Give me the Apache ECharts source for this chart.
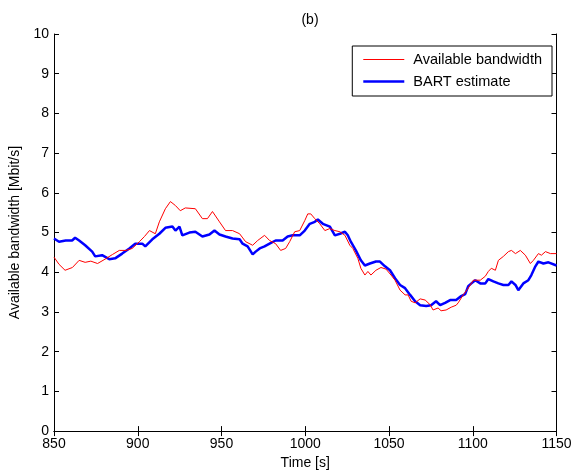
<!DOCTYPE html>
<html>
<head>
<meta charset="utf-8">
<script src="https://cdn.jsdelivr.net/npm/echarts@6/dist/echarts.min.js"></script>
<style>html,body{margin:0;padding:0;background:#fff}#c{width:576px;height:475px}</style>
</head>
<body>
<div id="c"></div>
<script>
const availTime = [850,853,856.6,861,865,868.6,872,876,880.5,885,889,893,896.7,901,904,907,910.5,912.9,916.5,919.5,922.5,925.4,928.4,934.4,938.6,941.6,944.6,948.8,952.4,956.6,960.8,964.4,968.6,971.6,975.7,978.7,982.3,985.3,988.3,990.7,993.7,996.7,999.7,1001.5,1003.3,1005.7,1008.7,1011.7,1014.7,1017.7,1020.7,1023.7,1026.6,1028.4,1031.4,1033.2,1035.6,1037.4,1039.2,1042.2,1045.2,1048.2,1051.2,1053.6,1056.6,1059.6,1061.4,1063.2,1065.6,1068.6,1071.6,1074.6,1076.3,1079.3,1081.1,1084.1,1087.1,1090.1,1091.3,1094.3,1097.3,1100.4,1104.5,1107.5,1109.3,1111.1,1113.5,1115.3,1118.3,1121.3,1123.1,1125.5,1128.4,1131.4,1134.4,1136.2,1139.2,1141,1143.4,1146.4,1150];
const availValue = [4.38,4.2,4.05,4.12,4.3,4.25,4.28,4.22,4.33,4.45,4.55,4.55,4.6,4.77,4.9,5.05,4.97,5.27,5.6,5.78,5.68,5.55,5.62,5.6,5.35,5.35,5.53,5.27,5.05,5.05,4.97,4.77,4.68,4.8,4.93,4.8,4.72,4.55,4.6,4.77,5.02,5.05,5.3,5.47,5.47,5.35,5.22,5.05,5.1,5.05,5.02,4.93,4.68,4.6,4.35,4.1,3.93,4.02,3.93,4.05,4.12,4.08,3.93,3.8,3.55,3.43,3.43,3.27,3.23,3.33,3.3,3.18,3.05,3.1,3.03,3.05,3.12,3.17,3.23,3.43,3.6,3.8,3.8,3.9,4.02,4.1,4.05,4.3,4.4,4.52,4.55,4.47,4.55,4.43,4.22,4.3,4.47,4.43,4.52,4.47,4.47];
const bartTime = [850,853,857,860.8,862.6,865,868.6,872.8,874.6,878.7,883,886.5,890.7,895,898.5,902.7,904.5,908.7,912.9,916.5,920.7,922.5,924.9,926.6,930.8,934.4,938.6,942.8,945.8,948.8,952.4,956.6,960.8,962.6,965.6,968.6,970.4,972.8,975.7,978.7,982.3,986.5,989.5,992.5,996.7,999.7,1002.7,1005.7,1007.5,1010.5,1014.7,1017.7,1020.7,1023.7,1025.4,1027.2,1030.2,1033.2,1035.6,1038.6,1042.2,1044.6,1047.6,1050.6,1053.6,1056.6,1059.6,1062.6,1065.6,1068.6,1072.2,1075.1,1078.1,1080.5,1083.5,1086.5,1090.1,1093.1,1095.5,1097.3,1099.2,1101.5,1104.5,1107.5,1109.3,1112.3,1115.3,1118.3,1121.3,1123.1,1125.5,1127.2,1130.2,1133.2,1135,1137.4,1139.2,1142.2,1145.2,1150];
const bartValue = [4.85,4.77,4.8,4.8,4.87,4.8,4.68,4.52,4.4,4.43,4.33,4.35,4.47,4.6,4.72,4.72,4.65,4.83,4.97,5.12,5.15,5.05,5.15,4.93,5.0,5.02,4.9,4.95,5.05,4.95,4.9,4.85,4.83,4.72,4.65,4.45,4.52,4.6,4.65,4.72,4.8,4.8,4.9,4.93,4.93,5.05,5.22,5.27,5.33,5.22,5.15,4.93,4.97,5.02,4.93,4.77,4.55,4.3,4.17,4.22,4.27,4.27,4.15,4.05,3.85,3.68,3.6,3.43,3.27,3.17,3.15,3.17,3.27,3.17,3.23,3.3,3.3,3.4,3.45,3.65,3.72,3.8,3.72,3.72,3.83,3.77,3.72,3.68,3.68,3.77,3.68,3.55,3.72,3.8,3.93,4.15,4.27,4.22,4.25,4.17];
const xTicksMin = 850, xTicksMax = 1150, xStep = 50;
const yTicksMin = 0, yTicksMax = 10, yStep = 1;
const seriesNames = ['Available bandwidth', 'BART estimate'];

const zip = (a, b) => a.map((v, i) => [v, b[i]]);
const font = "'Liberation Sans', Arial, sans-serif";
const chart = echarts.init(document.getElementById('c'));
const lineAx = {show: true, lineStyle: {color: '#000', width: 1}};
const tick = {show: true, inside: true, length: 5, lineStyle: {color: '#000'}};
const plain = v => String(v);
chart.setOption({
  animation: false,
  backgroundColor: '#fff',
  title: {text: '(b)', left: 305, textAlign: 'center', top: 8,
    textStyle: {fontFamily: font, fontSize: 14, fontWeight: 'normal', color: '#000'}},
  grid: {left: 54, right: 19.5, top: 34, bottom: 41, containLabel: false},
  legend: {
    orient: 'vertical', right: 24, top: 46,
    symbolKeepAspect: true,
    data: [
      {name: seriesNames[0], icon: 'path://M0,0h41v1h-41z', symbolKeepAspect: true, itemStyle: {color: '#ff0000'}},
      {name: seriesNames[1], icon: 'path://M0,0h41v2.5h-41z', symbolKeepAspect: true, itemStyle: {color: '#0000ff'}}
    ],
    itemWidth: 41, itemHeight: 16, itemGap: 7,
    padding: [6, 10, 7, 11],
    borderColor: '#000', borderWidth: 1, backgroundColor: '#fff',
    textStyle: {fontFamily: font, fontSize: 14.5, color: '#000', padding: [0, 0, 0, 4]}
  },
  xAxis: [
    {type: 'value', min: xTicksMin, max: xTicksMax, interval: xStep, position: 'bottom',
     name: 'Time [s]', nameLocation: 'middle', nameGap: 23,
     nameTextStyle: {fontFamily: font, fontSize: 14, color: '#000'},
     axisLine: lineAx, axisTick: tick, splitLine: {show: false},
     axisLabel: {fontFamily: font, fontSize: 14, color: '#000', margin: 6, formatter: plain}},
    {type: 'value', min: xTicksMin, max: xTicksMax, interval: xStep, position: 'top',
     axisLine: lineAx, axisTick: tick, splitLine: {show: false}, axisLabel: {show: false}}
  ],
  yAxis: [
    {type: 'value', min: yTicksMin, max: yTicksMax, interval: yStep, position: 'left',
     name: 'Available bandwidth [Mbit/s]', nameLocation: 'middle', nameGap: 30,
     nameTextStyle: {fontFamily: font, fontSize: 14, color: '#000'},
     axisLine: lineAx, axisTick: tick, splitLine: {show: false},
     axisLabel: {fontFamily: font, fontSize: 14, color: '#000', margin: 5, formatter: plain}},
    {type: 'value', min: yTicksMin, max: yTicksMax, interval: yStep, position: 'right',
     axisLine: lineAx, axisTick: tick, splitLine: {show: false}, axisLabel: {show: false}}
  ],
  series: [
    {name: seriesNames[0], type: 'line', data: zip(availTime, availValue),
     showSymbol: false, symbol: 'none', color: '#ff0000', lineStyle: {color: '#ff0000', width: 1}, z: 3},
    {name: seriesNames[1], type: 'line', data: zip(bartTime, bartValue),
     showSymbol: false, symbol: 'none', color: '#0000ff', lineStyle: {color: '#0000ff', width: 2.5}, z: 2}
  ]
});
</script>
</body>
</html>
